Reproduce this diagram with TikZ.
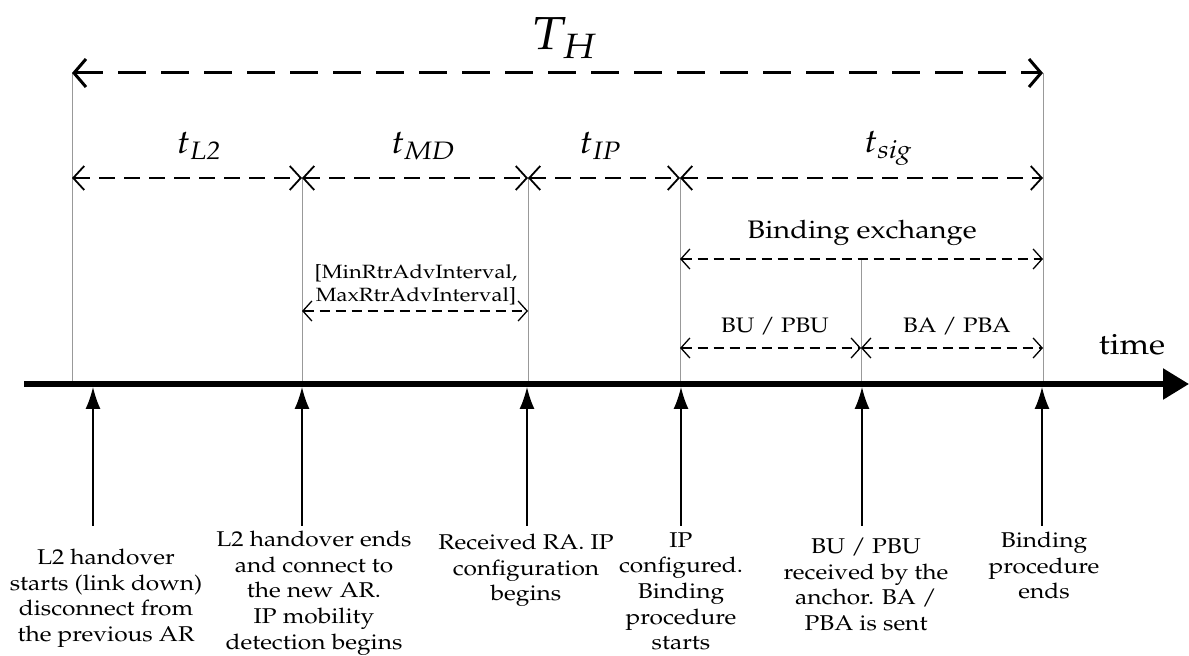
\documentclass[tikz,border=0pt]{standalone}
\usepackage[T1]{fontenc}
\usepackage{mathpazo}
\usetikzlibrary{arrows.meta,positioning}
\tikzset{
  guide/.style={draw=black!40, line width=1pt},
  axis/.style={line width=5.5pt, -{Triangle[length=26pt,width=30pt]}},
  bigspan/.style={line width=3pt, dash pattern=on 28pt off 15pt,
    {Straight Barb[length=12pt,width=28pt,line width=3pt]}-{Straight Barb[length=12pt,width=28pt,line width=3pt]}},
  span/.style={line width=2pt, dash pattern=on 16pt off 9pt,
    {Straight Barb[length=11pt,width=24pt,line width=1.8pt]}-{Straight Barb[length=11pt,width=24pt,line width=1.8pt]}},
  subspan/.style={line width=1.3pt, dash pattern=on 10pt off 6pt,
    {Straight Barb[length=9pt,width=20pt,line width=1.3pt]}-{Straight Barb[length=9pt,width=20pt,line width=1.3pt]}},
  evarrow/.style={line width=1.5pt, -{Latex[length=22pt,width=15pt]}},
  biglbl/.style={font=\fontsize{53}{58}\selectfont},
  tlbl/.style={font=\fontsize{38}{42}\selectfont},
  midlbl/.style={font=\fontsize{29}{34}\selectfont},
  smalllbl/.style={font=\fontsize{22}{26}\selectfont, align=center, inner sep=0pt},
  buslbl/.style={font=\fontsize{24}{28}\selectfont, inner sep=0pt},
  timelbl/.style={font=\fontsize{33.5}{38}\selectfont},
  evtext/.style={font=\fontsize{24.5}{29.4}\selectfont, align=center, inner sep=0pt, anchor=north}
}
\begin{document}
% the source figure is squashed vertically: nodes get yscale, units do not
\begin{tikzpicture}[x=1pt,y=-1.1455pt,yscale=0.873,transform shape]
\useasboundingbox (0,0) rectangle (1189,655);
% rows
\coordinate (rowH) at (0,73);
\coordinate (rowT) at (0,178);
\coordinate (rowB) at (0,259);
\coordinate (rowS) at (0,311);
\coordinate (rowU) at (0,348);
% marks on the time axis
\coordinate (s) at (72,384);
\coordinate (l) at (302,384);
\coordinate (m) at (528,384);
\coordinate (i) at (680,384);
\coordinate (b) at (861,384);
\coordinate (e) at (1043,384);
\draw[guide] (s |- rowH) -- (s);
\draw[guide] (l |- rowT) -- (l);
\draw[guide] (m |- rowT) -- (m);
\draw[guide] (i |- rowT) -- (i);
\draw[guide] (b |- rowB) -- (b);
\draw[guide] (e |- rowH) -- (e);
% time axis
\draw[axis] (24,384) -- (1189,384);
\node[timelbl] (time) at (1132,345) {time};
% total handover time
\draw[bigspan] (s |- rowH) -- (e |- rowH);
\node[biglbl] (TH) at (564,38) {$T_H$};
% delay components
\draw[span] (s |- rowT) -- (l |- rowT);
\draw[span] (l |- rowT) -- (m |- rowT);
\draw[span] (m |- rowT) -- (i |- rowT);
\draw[span] (i |- rowT) -- (e |- rowT);
\node[tlbl] (tL2) at (199,146) {$t_{\mathit{L2}}$};
\node[tlbl] (tMD) at (423,146) {$t_{\mathit{MD}}$};
\node[tlbl] (tIP) at (600,146) {$t_{\mathit{IP}}$};
\node[tlbl] (tsig) at (888,148) {$t_{\mathit{sig}}$};
% binding exchange
\draw[subspan] (i |- rowB) -- (e |- rowB);
\node[midlbl] (bind) at (862,233) {Binding exchange};
\draw[subspan] (l |- rowS) -- (m |- rowS);
\node[smalllbl] (rtradv) at (416,285) {[MinRtrAdvInterval,\\MaxRtrAdvInterval]};
\draw[subspan] (i |- rowU) -- (b |- rowU);
\draw[subspan] (b |- rowU) -- (e |- rowU);
\node[buslbl] (bu) at (775,326) {BU / PBU};
\node[buslbl] (ba) at (957,326) {BA / PBA};
% events
\foreach \x/\n in {93/1,302/2,527/3,681/4,862/5,1042/6}{
  \coordinate (up\n) at (\x,387);
  \coordinate (ft\n) at (\x,526);
  \draw[evarrow] (ft\n) -- (up\n);
}
\node[evtext] (ev1) at (106,549) {L2 handover\\starts (link down)\\disconnect from\\the previous AR};
\node[evtext] (ev2) at (314,531) {L2 handover ends\\and connect to\\the new AR.\\IP mobility\\detection begins};
\node[evtext] (ev3) at (526,534) {Received RA. IP\\configuration\\begins};
\node[evtext] (ev4) at (681,532) {IP\\configured.\\Binding\\procedure\\starts};
\node[evtext] (ev5) at (866,538) {BU / PBU\\received by the\\anchor. BA /\\PBA is sent};
\node[evtext] (ev6) at (1044,532) {Binding\\procedure\\ends};
\end{tikzpicture}
\end{document}
